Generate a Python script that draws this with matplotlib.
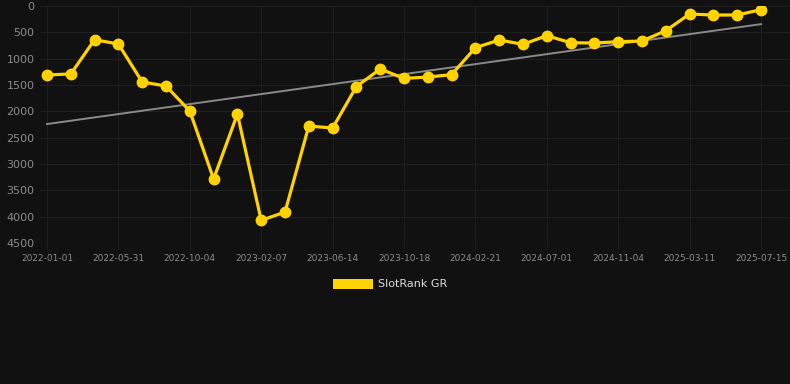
import numpy as np
import matplotlib.pyplot as plt
from matplotlib.patches import Patch

# rank values per sample (lower is better, axis inverted)
ranks = [1310, 1290, 640, 722, 1443, 1519, 1994, 3285, 2051, 4070, 3913,
         2279, 2317, 1530, 1196, 1375, 1349, 1304, 791, 646, 728, 563,
         697, 703, 678, 665, 469, 152, 171, 171, 70]
tick_labels = ['2022-01-01', '2022-05-31', '2022-10-04', '2023-02-07',
               '2023-06-14', '2023-10-18', '2024-02-21', '2024-07-01',
               '2024-11-04', '2025-03-11', '2025-07-15']
y_ticks = [0, 500, 1000, 1500, 2000, 2500, 3000, 3500, 4000, 4500]

bg = '#111111'
gold = '#FFD200'

x = np.arange(len(ranks))
slope, icpt = np.polyfit(x, ranks, 1)

fig = plt.figure(figsize=(7.9, 3.84), dpi=100, facecolor=bg)
ax = fig.add_axes([40 / 790, 1 - 243 / 384, 750 / 790, 237 / 384])
ax.set_facecolor(bg)

ax.plot(x, slope * x + icpt, color='#8a8a8a', lw=1.4, zorder=2)
ax.plot(x, ranks, color=gold, lw=2.3, marker='o', ms=7.5, zorder=3)

ax.set_xlim(-7 / 23.8, 30 + 29 / 23.8)
ax.set_ylim(4500, 0)
ax.set_yticks(y_ticks)
ax.set_xticks(x[::3])
ax.set_xticklabels(tick_labels)

ax.grid(True, color='#1f1f1f', lw=0.8)
ax.set_axisbelow(True)
for s in ax.spines.values():
    s.set_visible(False)
ax.tick_params(axis='y', colors='#8c8c8c', labelsize=8, length=0, pad=4)
ax.tick_params(axis='x', colors='#8c8c8c', labelsize=6.5, length=4, pad=4,
               color='#1f1f1f')

leg = fig.legend(handles=[Patch(facecolor=gold, label='SlotRank GR')],
                 loc='center', bbox_to_anchor=(390 / 790, 1 - 284 / 384),
                 frameon=False, handlelength=3.6, handleheight=1.05,
                 handletextpad=0.5, fontsize=8)
for t in leg.get_texts():
    t.set_color('#dddddd')

fig.savefig('out.png', dpi=100, facecolor=bg)
